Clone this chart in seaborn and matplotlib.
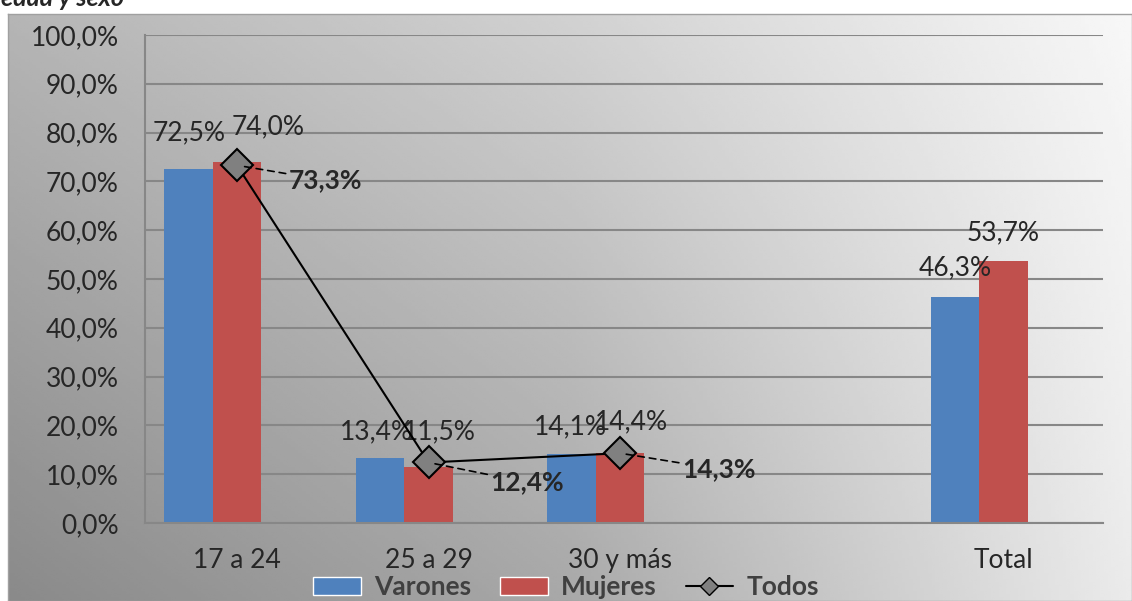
import numpy as np
import pandas as pd
import matplotlib
matplotlib.use("Agg")
import matplotlib.pyplot as plt
from matplotlib.lines import Line2D
from matplotlib.patches import Patch
import seaborn as sns

# datos
grupos = ["17 a 24", "25 a 29", "30 y más", " ", "Total"]
grupos_barras = ["17 a 24", "25 a 29", "30 y más", "Total"]
varones = [72.5, 13.4, 14.1, 46.3]
mujeres = [74.0, 11.5, 14.4, 53.7]
grupos_todos = ["17 a 24", "25 a 29", "30 y más"]
todos = [73.3, 12.4, 14.3]
series = ["Varones", "Mujeres", "Todos"]

AZUL = "#4f81bd"
ROJO = "#c0504d"
GRIS = "#878787"
FS = 19


def pct(v):
    return f"{v:.1f}%".replace(".", ",")


df = pd.DataFrame({
    "grupo": grupos_barras * 2,
    "valor": varones + mujeres,
    "sexo": ["Varones"] * len(varones) + ["Mujeres"] * len(mujeres),
})

sns.set_style("white")
plt.rcParams["font.family"] = ["Lato", "DejaVu Sans"]

W, H = 1132, 601
fig = plt.figure(figsize=(W / 100, H / 100), dpi=100)

# fondo degradado del area del grafico
bg = fig.add_axes([8 / W, 0, 1 - 8 / W, 1 - 14 / H], zorder=0)
u = np.linspace(0, 1, 300)
top = np.interp(u, [0, 0.5, 1], [0.71, 0.82, 0.97])
bot = np.interp(u, [0, 0.5, 1], [0.54, 0.66, 0.92])
w = np.linspace(0, 1, 200)[:, None]
grad = top[None, :] * (1 - w) + bot[None, :] * w
bg.imshow(grad, cmap="gray", vmin=0, vmax=1, aspect="auto",
          extent=[0, 1, 0, 1], interpolation="bilinear")
bg.set_xticks([])
bg.set_yticks([])
for s in bg.spines.values():
    s.set_color("#a0a0a0")
    s.set_linewidth(1)

fig.text(1 / W, 1 - 6 / H, "edad y sexo", fontsize=18, fontweight="bold",
         fontstyle="italic", va="baseline", ha="left")

ax = fig.add_axes([145 / W, 1 - 523 / H, (1103 - 145) / W, (523 - 35) / H], zorder=1)
ax.patch.set_alpha(0)

sns.barplot(data=df, x="grupo", y="valor", hue="sexo", order=grupos,
            hue_order=series, palette={"Varones": AZUL, "Mujeres": ROJO, "Todos": "none"},
            width=0.76, errorbar=None, legend=False, saturation=1, ax=ax,
            linewidth=0)

# linea "Todos"
xs_todos = [grupos.index(g) for g in grupos_todos]
ax.plot(xs_todos, todos, color="black", lw=1.5, zorder=4,
        marker="D", markersize=16, markerfacecolor="#808080",
        markeredgecolor="black", markeredgewidth=1.5)

ax.set_xlim(-0.48, len(grupos) - 0.48)
ax.set_ylim(0, 100)
ax.set_yticks(range(0, 101, 10))
ax.set_yticklabels([pct(v) for v in range(0, 101, 10)], fontsize=FS)
ax.set_xticks(range(len(grupos)))
ax.set_xticklabels(grupos, fontsize=FS)
ax.set_xticks(np.arange(-0.48, len(grupos), 1), minor=True)
ax.tick_params(axis="x", which="major", length=0, pad=18)
ax.tick_params(axis="x", which="minor", length=7, width=1.5, color=GRIS)
ax.tick_params(axis="y", length=7, width=1.5, color=GRIS, pad=12)
ax.set_xlabel("")
ax.set_ylabel("")
ax.yaxis.grid(True, color=GRIS, lw=1.5)
ax.set_axisbelow(True)
for s in ["top", "right"]:
    ax.spines[s].set_visible(False)
for s in ["left", "bottom"]:
    ax.spines[s].set_color(GRIS)
    ax.spines[s].set_linewidth(1.5)

# etiquetas de barras (desplazamientos en pixeles)
off_var = [(1, 36), (-4, 26), (-1, 27), (0, 29)]
off_muj = [(31, 35), (11, 35), (11, 31), (0, 28)]
bar_w = 0.76 / 3
for i, g in enumerate(grupos_barras):
    x0 = grupos.index(g)
    ax.annotate(pct(varones[i]), (x0 - bar_w, varones[i]), xytext=off_var[i],
                textcoords="offset pixels", ha="center", va="center", fontsize=FS)
    ax.annotate(pct(mujeres[i]), (x0, mujeres[i]), xytext=off_muj[i],
                textcoords="offset pixels", ha="center", va="center", fontsize=FS)

off_todos = [(52, -15), (62, -20), (62, -16)]
for x0, v, o in zip(xs_todos, todos, off_todos):
    ax.annotate(pct(v), (x0, v), xytext=o, textcoords="offset pixels",
                ha="left", va="center", fontsize=FS, fontweight="bold", zorder=5,
                arrowprops=dict(arrowstyle="-", color="black", lw=1.2,
                                linestyle=(0, (4, 3)), shrinkA=0, shrinkB=4))

handles = [Patch(facecolor=AZUL), Patch(facecolor=ROJO),
           Line2D([], [], color="black", lw=1.5, marker="D", markersize=9,
                  markerfacecolor="#808080", markeredgecolor="black")]
fig.legend(handles, series, loc="center", bbox_to_anchor=(0.5, 1 - 587 / H),
           ncol=3, frameon=False, prop={"weight": "bold", "size": FS},
           labelcolor="#404040", handlelength=1.8, handletextpad=0.5,
           columnspacing=1.1, borderaxespad=0, borderpad=0)

fig.savefig("out.png", dpi=100)
